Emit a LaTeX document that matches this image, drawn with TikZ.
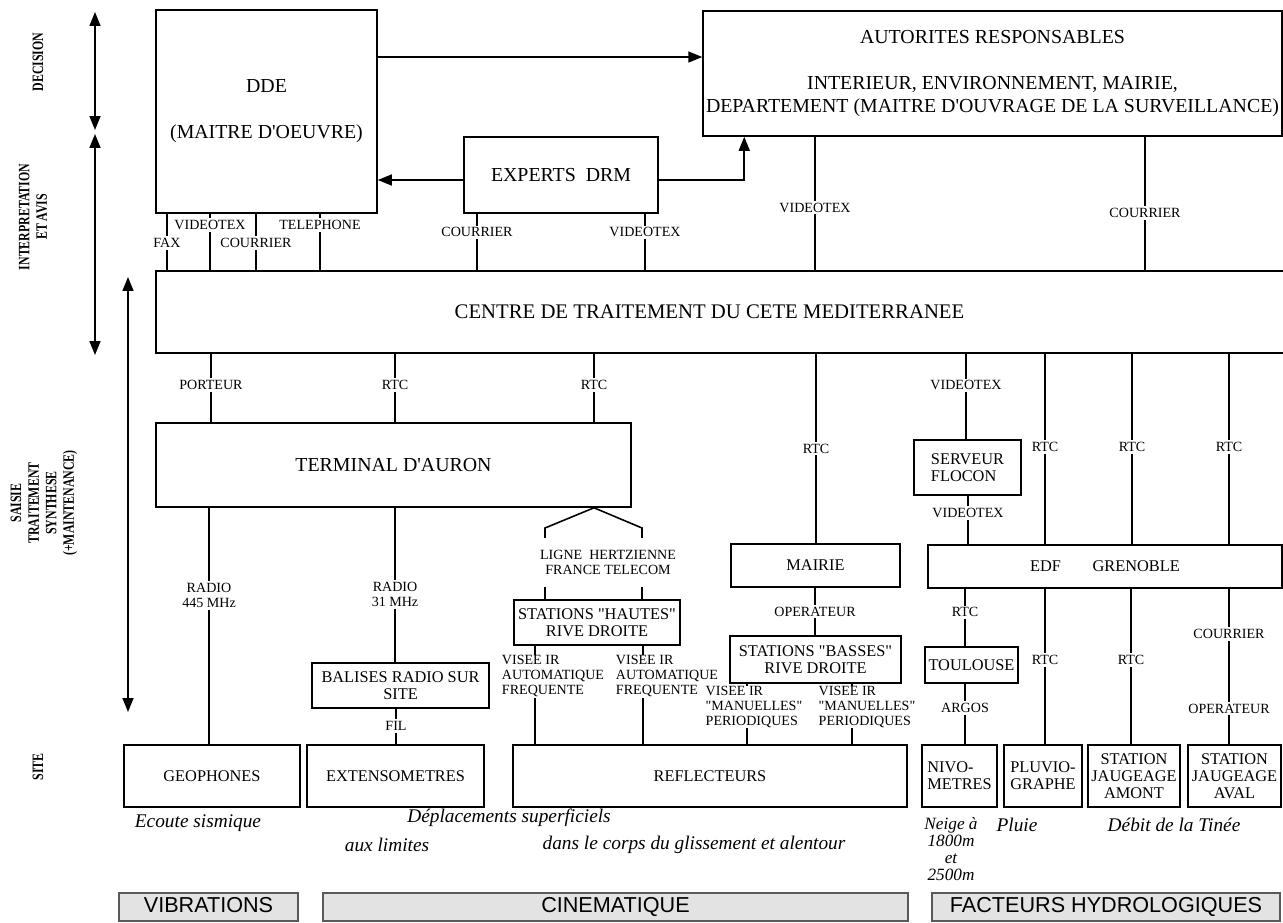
\documentclass[tikz,border=0pt]{standalone}
\usepackage{fontspec}
\setmainfont{Liberation Serif}
\newfontfamily\themefont{Liberation Sans}
\usetikzlibrary{arrows.meta,positioning}
\newcommand{\dq}{\textquotedbl}
\newcommand{\sq}{\textquotesingle}
\tikzset{
    box/.style={draw, line width=0.9pt, inner sep=1pt, align=center, font=\fontsize{11.3}{13}\selectfont},
    smallbox/.style={box, font=\fontsize{9.3}{9.6}\selectfont},
    lbl/.style={fill=white, inner sep=1.2pt, align=center, font=\fontsize{8}{8.5}\selectfont},
    vlbl/.style={lbl, align=left, inner sep=0.3pt},
    link/.style={draw, line width=0.9pt},
    arrow/.style={link, -{Triangle[length=2.8mm, width=2.2mm]}},
    axis/.style={link, {Triangle[length=2.8mm, width=2.2mm]}-{Triangle[length=2.8mm, width=2.2mm]}},
    level/.style={rotate=90, xscale=0.75, align=center, font=\fontsize{9}{10}\selectfont\bfseries},
    note/.style={align=center, font=\fontsize{11}{12}\selectfont\itshape},
    theme/.style={draw=black!65, fill=black!11, line width=0.8pt, inner sep=0pt, text height=9pt, text depth=2.5pt,
        font=\themefont\fontsize{12.3}{14}\selectfont}
}

\begin{document}
\begin{tikzpicture}[x=0.02cm, y=-0.02cm]
    \useasboundingbox (0,0) rectangle (1283,922);

    % levels
    \node[level] (decision) at (38,62) {DECISION};
    \node[level] (interp) at (33,217) {INTERPRETATION\\ET AVIS};
    \node[level] (saisie) at (44,503) {SAISIE\\TRAITEMENT\\SYNTHESE\\(+MAINTENANCE)};
    \node[level] (site) at (38,767) {SITE};
    \coordinate (dectop) at (95,12);
    \coordinate (decbot) at (95,130);
    \coordinate (inttop) at (95,134);
    \coordinate (intbot) at (95,355);
    \coordinate (saitop) at (128,277);
    \coordinate (saibot) at (128,712);
    \draw[axis] (dectop) -- (decbot);
    \draw[axis] (inttop) -- (intbot);
    \draw[axis] (saitop) -- (saibot);

    % decision / interpretation
    \node[box, minimum width=4.42cm, minimum height=4.06cm] (dde) at (266.5,111.5) {DDE\\[4.6mm](MAITRE D\sq OEUVRE)};
    \node[box, minimum width=11.58cm, minimum height=2.5cm] (auto) at (992.5,73.5)
        {AUTORITES RESPONSABLES\\[4.8mm]INTERIEUR, ENVIRONNEMENT, MAIRIE,\\DEPARTEMENT (MAITRE D\sq OUVRAGE DE LA SURVEILLANCE)};
    \node[box, minimum width=3.88cm, minimum height=1.52cm] (experts) at (561,175) {EXPERTS\ \ DRM};
    \node[box, minimum width=22.78cm, minimum height=1.64cm, font=\fontsize{11.8}{13}\selectfont] (centre) at (725.5,312)
        {\hspace*{-0.64cm}CENTRE DE TRAITEMENT DU CETE MEDITERRANEE};

    \coordinate (a1) at ([yshift=1.09cm]dde.east);
    \draw[arrow] (a1) -- (a1 -| auto.west);
    \coordinate (e1) at ([yshift=-0.1cm]experts.west);
    \draw[arrow] (e1) -- (e1 -| dde.east);
    \draw[arrow] (e1 -| experts.east) -| ([xshift=0.84cm]auto.south west);

    \foreach \x/\t/\p in {167/FAX/.52, 210/VIDEOTEX/.2, 256/COURRIER/.52, 320/TELEPHONE/.2}
        \draw[link] (dde.south -| \x,0) -- node[lbl, pos=\p] {\t} (centre.north -| \x,0);
    \foreach \x/\t in {477/COURRIER, 645/VIDEOTEX}
        \draw[link] (experts.south -| \x,0) -- node[lbl, pos=.33] {\t} (centre.north -| \x,0);
    \draw[link] (auto.south -| 815,0) -- node[lbl, pos=.53] {VIDEOTEX} (centre.north -| 815,0);
    \draw[link] (auto.south -| 1145,0) -- node[lbl, pos=.57] {COURRIER} (centre.north -| 1145,0);

    % saisie, traitement
    \node[box, minimum width=9.5cm, minimum height=1.68cm] (terminal) at (393.5,465) {TERMINAL D\sq AURON};
    \node[smallbox, minimum width=3.32cm, minimum height=0.9cm] (hautes) at (597,622.5) {STATIONS \dq HAUTES\dq\\RIVE DROITE};
    \node[smallbox, minimum width=3.54cm, minimum height=0.9cm] (balises) at (400.5,685.5) {BALISES RADIO SUR\\SITE};
    \node[smallbox, minimum width=3.38cm, minimum height=0.86cm] (mairie) at (815.5,565.5) {MAIRIE};
    \node[smallbox, minimum width=3.42cm, minimum height=0.94cm] (basses) at (815.5,659.5) {STATIONS \dq BASSES\dq\\RIVE DROITE};
    \node[smallbox, align=left, minimum width=2.14cm, minimum height=1.1cm] (serveur) at (967.5,467.5) {SERVEUR\\FLOCON};
    \node[smallbox, minimum width=7.08cm, minimum height=0.86cm] (edf) at (1105,566.5) {EDF\hspace{18pt}GRENOBLE};
    \node[smallbox, minimum width=1.86cm, minimum height=0.72cm] (toulouse) at (971.5,665) {TOULOUSE};

    \foreach \x/\t in {211/PORTEUR, 395/RTC, 594/RTC}
        \draw[link] (centre.south -| \x,0) -- node[lbl, pos=.46] {\t} (terminal.north -| \x,0);
    \draw[link] (centre.south -| 816,0) -- node[lbl, pos=.5] {RTC} (mairie.north -| 816,0);
    \draw[link] (centre.south -| 966,0) -- node[lbl, pos=.37] {VIDEOTEX} (serveur.north -| 966,0);
    \foreach \x in {1045, 1132, 1229}
        \draw[link] (centre.south -| \x,0) -- node[lbl, pos=.49] {RTC} (edf.north -| \x,0);
    \draw[link] (serveur.south -| 968,0) -- node[lbl, pos=.36] {VIDEOTEX} (edf.north -| 968,0);
    \draw[link] (mairie.south -| 815,0) -- node[lbl, pos=.5] {OPERATEUR} (basses.north -| 815,0);
    \draw[link] (edf.south -| 965,0) -- node[lbl, pos=.41] {RTC} (toulouse.north -| 965,0);

    % ligne hertzienne
    \draw[link] (terminal.south -| 594,0) -- (545,528) -- (hautes.north -| 545,0);
    \draw[link] (terminal.south -| 594,0) -- (642,528) -- (hautes.north -| 642,0);
    \node[lbl, minimum height=0.98cm] (ligne) at (608,562) {LIGNE\ \ HERTZIENNE\\FRANCE TELECOM};

    % site
    \node[smallbox, minimum width=3.52cm, minimum height=1.24cm] (geophones) at (212,776) {GEOPHONES};
    \node[smallbox, minimum width=3.54cm, minimum height=1.24cm] (extenso) at (395.5,776) {EXTENSOMETRES};
    \node[smallbox, minimum width=7.88cm, minimum height=1.24cm] (reflect) at (710,776) {REFLECTEURS};
    \node[smallbox, align=left, minimum width=1.5cm, minimum height=1.24cm] (nivo) at (959.5,776) {NIVO-\\METRES};
    \node[smallbox, align=left, minimum width=1.56cm, minimum height=1.24cm] (pluvio) at (1043,776) {PLUVIO-\\GRAPHE};
    \node[smallbox, minimum width=1.84cm, minimum height=1.24cm] (amont) at (1134,776) {STATION\\JAUGEAGE\\AMONT};
    \node[smallbox, minimum width=1.86cm, minimum height=1.24cm] (aval) at (1234.5,776) {STATION\\JAUGEAGE\\AVAL};

    \draw[link] (terminal.south -| 209,0) -- node[lbl, pos=.37] {RADIO\\445 MHz} (geophones.north -| 209,0);
    \draw[link] (terminal.south -| 395,0) -- node[lbl, pos=.56] {RADIO\\31 MHz} (balises.north -| 395,0);
    \draw[link] (balises.south -| 396,0) -- node[lbl, pos=.49] {FIL} (extenso.north -| 396,0);
    \draw[link] (hautes.south -| 535,0) -- node[vlbl, pos=.31, xshift=0.36cm] {VISEE IR\\AUTOMATIQUE\\FREQUENTE} (reflect.north -| 535,0);
    \draw[link] (hautes.south -| 643,0) -- node[vlbl, pos=.31, xshift=0.48cm] {VISEE IR\\AUTOMATIQUE\\FREQUENTE} (reflect.north -| 643,0);
    \draw[link] (basses.south -| 747,0) -- node[vlbl, pos=.38, xshift=0.14cm] {VISEE IR\\\dq MANUELLES\dq\\PERIODIQUES} (reflect.north -| 747,0);
    \draw[link] (basses.south -| 852,0) -- node[vlbl, pos=.38, xshift=0.3cm] {VISEE IR\\\dq MANUELLES\dq\\PERIODIQUES} (reflect.north -| 852,0);
    \draw[link] (toulouse.south -| 965,0) -- node[lbl, pos=.4] {ARGOS} (nivo.north -| 965,0);
    \draw[link] (edf.south -| 1045,0) -- node[lbl, pos=.46] {RTC} (pluvio.north -| 1045,0);
    \draw[link] (edf.south -| 1131,0) -- node[lbl, pos=.46] {RTC} (amont.north -| 1131,0);
    \draw[link] (edf.south -| 1229,0) -- node[lbl, pos=.29] {COURRIER} node[lbl, pos=.77] {OPERATEUR} (aval.north -| 1229,0);

    % what is measured
    \node[note] (ecoute) at (198,823) {Ecoute sismique};
    \node[note] (deplac) at (509,818) {Déplacements superficiels};
    \node[note] (limites) at (387,845) {aux limites};
    \node[note] (corps) at (694,845) {dans le corps du glissement et alentour};
    \node[note, font=\fontsize{9.8}{9.6}\selectfont\itshape] (neige) at (951,849) {Neige à\\1800m\\et\\2500m};
    \node[note] (pluie) at (1017,825) {Pluie};
    \node[note] (debit) at (1174,825) {Débit de la Tinée};

    \node[theme, minimum width=3.58cm, minimum height=0.56cm] (vib) at (208.5,907) {VIBRATIONS};
    \node[theme, minimum width=11.7cm, minimum height=0.56cm] (cine) at (615.5,907) {CINEMATIQUE};
    \node[theme, minimum width=6.96cm, minimum height=0.56cm] (hydro) at (1106,907) {FACTEURS HYDROLOGIQUES};
\end{tikzpicture}
\end{document}
